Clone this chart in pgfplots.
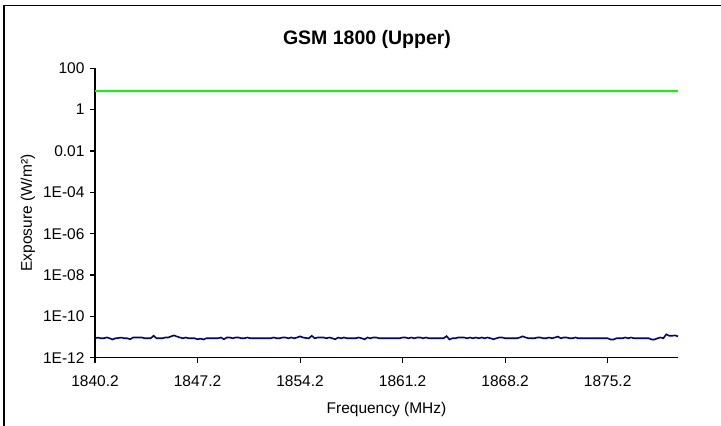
\documentclass[border=0pt]{standalone}
\usepackage{fontspec}
\setmainfont{Liberation Sans}
\usepackage{pgfplots}
\pgfplotsset{compat=1.18}
\usepackage{pgfplotstable}
\definecolor{navyline}{RGB}{0,0,128}
\definecolor{limitgreen}{RGB}{0,255,0}

% exposure in units of 1E-12 W/m^2
\pgfplotstableread[row sep=\\]{
f y\\
1840.2 8.7\\ 1840.4 9.4\\ 1840.6 8.7\\ 1840.8 8.7\\ 1841.0 9.6\\ 1841.2 8.7\\ 1841.4 7.6\\ 1841.6 8.7\\ 1841.8 9.0\\ 1842.0 9.4\\
1842.2 8.7\\ 1842.4 8.7\\ 1842.6 7.8\\ 1842.8 9.5\\ 1843.0 9.5\\ 1843.2 9.5\\ 1843.4 9.5\\ 1843.6 8.7\\ 1843.8 8.7\\ 1844.0 8.7\\
1844.2 11.5\\ 1844.4 8.7\\ 1844.6 8.7\\ 1844.8 8.7\\ 1845.0 9.5\\ 1845.2 9.5\\ 1845.4 10.8\\ 1845.6 12.0\\ 1845.8 10.5\\ 1846.0 9.5\\
1846.2 8.7\\ 1846.4 9.5\\ 1846.6 8.7\\ 1846.8 8.7\\ 1847.0 8.7\\ 1847.2 7.8\\ 1847.4 8.4\\ 1847.6 7.6\\ 1847.8 8.7\\ 1848.0 8.7\\
1848.2 8.7\\ 1848.4 8.7\\ 1848.6 8.7\\ 1848.8 9.5\\ 1849.0 7.8\\ 1849.2 9.5\\ 1849.4 9.5\\ 1849.6 8.7\\ 1849.8 9.5\\ 1850.0 9.5\\
1850.2 8.7\\ 1850.4 8.7\\ 1850.6 9.5\\ 1850.8 8.7\\ 1851.0 8.7\\ 1851.2 8.7\\ 1851.4 8.7\\ 1851.6 8.7\\ 1851.8 8.7\\ 1852.0 8.7\\
1852.2 8.7\\ 1852.4 9.5\\ 1852.6 8.7\\ 1852.8 8.7\\ 1853.0 9.5\\ 1853.2 9.5\\ 1853.4 8.7\\ 1853.6 9.5\\ 1853.8 8.7\\ 1854.0 9.5\\
1854.2 10.8\\ 1854.4 9.5\\ 1854.6 9.0\\ 1854.8 8.7\\ 1855.0 11.5\\ 1855.2 8.7\\ 1855.4 9.5\\ 1855.6 9.5\\ 1855.8 9.5\\ 1856.0 8.7\\
1856.2 9.5\\ 1856.4 8.7\\ 1856.6 7.8\\ 1856.8 9.5\\ 1857.0 8.7\\ 1857.2 9.5\\ 1857.4 8.7\\ 1857.6 8.7\\ 1857.8 8.7\\ 1858.0 8.7\\
1858.2 9.5\\ 1858.4 8.7\\ 1858.6 7.8\\ 1858.8 9.5\\ 1859.0 8.7\\ 1859.2 9.5\\ 1859.4 9.5\\ 1859.6 8.7\\ 1859.8 8.7\\ 1860.0 8.7\\
1860.2 8.7\\ 1860.4 8.7\\ 1860.6 8.7\\ 1860.8 8.7\\ 1861.0 8.7\\ 1861.2 9.5\\ 1861.4 9.5\\ 1861.6 8.7\\ 1861.8 9.5\\ 1862.0 8.7\\
1862.2 9.5\\ 1862.4 9.5\\ 1862.6 8.7\\ 1862.8 9.5\\ 1863.0 8.7\\ 1863.2 8.7\\ 1863.4 8.7\\ 1863.6 8.7\\ 1863.8 8.7\\ 1864.0 8.7\\
1864.2 11.0\\ 1864.4 7.6\\ 1864.6 8.7\\ 1864.8 8.7\\ 1865.0 9.5\\ 1865.2 9.5\\ 1865.4 9.5\\ 1865.6 8.7\\ 1865.8 9.5\\ 1866.0 8.7\\
1866.2 9.5\\ 1866.4 8.7\\ 1866.6 9.5\\ 1866.8 8.7\\ 1867.0 9.5\\ 1867.2 8.7\\ 1867.4 7.8\\ 1867.6 8.7\\ 1867.8 9.5\\ 1868.0 9.5\\
1868.2 8.7\\ 1868.4 8.7\\ 1868.6 8.7\\ 1868.8 8.7\\ 1869.0 8.7\\ 1869.2 9.5\\ 1869.4 10.8\\ 1869.6 9.5\\ 1869.8 8.7\\ 1870.0 8.7\\
1870.2 8.7\\ 1870.4 9.5\\ 1870.6 9.5\\ 1870.8 8.7\\ 1871.0 8.7\\ 1871.2 9.5\\ 1871.4 8.7\\ 1871.6 9.5\\ 1871.8 10.5\\ 1872.0 8.7\\
1872.2 9.5\\ 1872.4 9.5\\ 1872.6 8.7\\ 1872.8 8.7\\ 1873.0 9.5\\ 1873.2 8.7\\ 1873.4 8.7\\ 1873.6 8.7\\ 1873.8 8.7\\ 1874.0 8.7\\
1874.2 8.7\\ 1874.4 8.7\\ 1874.6 8.7\\ 1874.8 8.7\\ 1875.0 8.7\\ 1875.2 8.7\\ 1875.4 7.6\\ 1875.6 7.6\\ 1875.8 8.7\\ 1876.0 8.7\\
1876.2 8.7\\ 1876.4 9.5\\ 1876.6 8.7\\ 1876.8 9.5\\ 1877.0 8.7\\ 1877.2 8.7\\ 1877.4 8.7\\ 1877.6 8.7\\ 1877.8 8.7\\ 1878.0 8.7\\
1878.2 7.6\\ 1878.4 7.6\\ 1878.6 8.7\\ 1878.8 9.5\\ 1879.0 8.7\\ 1879.2 13.5\\ 1879.4 11.5\\ 1879.6 11.5\\ 1879.8 12.0\\ 1880.0 10.8\\
}\rawdata

\begin{document}
\begin{tikzpicture}[x=1pt,y=1pt]
\useasboundingbox (0,0) rectangle (721,426);
\draw[line width=1.6pt] (4,0) -- (4,420.5) -- (721,420.5);
\node[font=\bfseries\fontsize{19.5}{22}\selectfont, anchor=base] at (367,381) {GSM 1800 (Upper)};
\begin{axis}[
  scale only axis,
  width=583pt, height=289.4pt,
  at={(95pt,68.3pt)}, anchor=south west,
  ymode=log,
  xmin=1840.2, xmax=1880.0,
  ymin=1e-12, ymax=100,
  axis x line=bottom, axis y line=left,
  axis line style={-, line width=1.3pt, black},
  xtick={1840.2,1847.2,1854.2,1861.2,1868.2,1875.2},
  xticklabels={1840.2,1847.2,1854.2,1861.2,1868.2,1875.2},
  ytick={1e-12,1e-10,1e-8,1e-6,1e-4,1e-2,1,100},
  yticklabels={1E-12,1E-10,1E-08,1E-06,1E-04,0.01,1,100},
  minor ytick={},
  tick style={line width=1.1pt, black},
  tick align=outside,
  major tick length=5pt,
  ticklabel style={font=\fontsize{15.5}{18}\selectfont},
  xticklabel style={anchor=base, yshift=-23.5pt},
  yticklabel style={xshift=-2pt},
  xlabel={Frequency (MHz)},
  ylabel={Exposure (W/m²)},
  label style={font=\fontsize{15.5}{18}\selectfont},
  xlabel style={at={(0.5,-0.1945)}, anchor=base},
  ylabel style={at={(-0.115,0.5)}, anchor=center},
  clip=false,
]
\addplot[limitgreen, line width=1.8pt] coordinates {(1840.2,7.8) (1880.0,7.8)};
\addplot[navyline, line width=1.6pt] table[x=f, y expr={\thisrow{y}*1e-12}] {\rawdata};
\end{axis}
\end{tikzpicture}
\end{document}
